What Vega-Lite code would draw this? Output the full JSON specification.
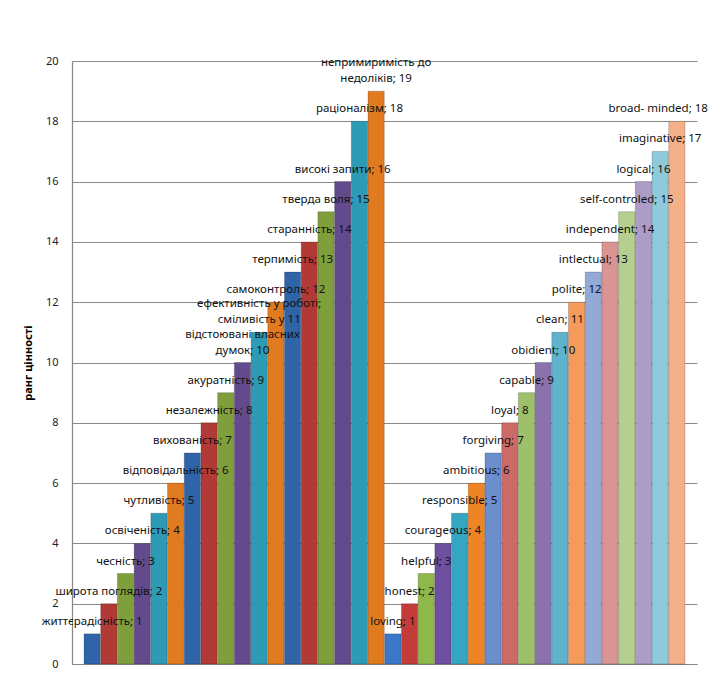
{
  "$schema": "https://vega.github.io/schema/vega-lite/v6.json",
  "width": 625,
  "height": 603,
  "autosize": "none",
  "padding": {"left": 72, "top": 61, "right": 23, "bottom": 35},
  "background": "white",
  "config": {"view": {"stroke": null}, "font": "Noto Sans"},
  "data": {"values": [
    {"n": 1, "label": "життєрадісність; 1", "value": 1},
    {"n": 2, "label": "широта поглядів; 2", "value": 2},
    {"n": 3, "label": "чесність; 3", "value": 3},
    {"n": 4, "label": "освіченість; 4", "value": 4},
    {"n": 5, "label": "чутливість; 5", "value": 5},
    {"n": 6, "label": "відповідальність; 6", "value": 6},
    {"n": 7, "label": "вихованість; 7", "value": 7},
    {"n": 8, "label": "незалежність; 8", "value": 8},
    {"n": 9, "label": "акуратність; 9", "value": 9},
    {"n": 10, "label": "відстоювані власних\nдумок; 10", "value": 10},
    {"n": 11, "label": "ефективність у роботі;\nсміливість у 11", "value": 11},
    {"n": 12, "label": "самоконтроль; 12", "value": 12},
    {"n": 13, "label": "терпимість; 13", "value": 13},
    {"n": 14, "label": "старанність; 14", "value": 14},
    {"n": 15, "label": "тверда воля; 15", "value": 15},
    {"n": 16, "label": "високі запити; 16", "value": 16},
    {"n": 17, "label": "раціоналізм; 18", "value": 18},
    {"n": 18, "label": "непримиримість до\nнедоліків; 19", "value": 19},
    {"n": 19, "label": "loving; 1", "value": 1},
    {"n": 20, "label": "honest; 2", "value": 2},
    {"n": 21, "label": "helpful; 3", "value": 3},
    {"n": 22, "label": "courageous; 4", "value": 4},
    {"n": 23, "label": "responsible; 5", "value": 5},
    {"n": 24, "label": "ambitious; 6", "value": 6},
    {"n": 25, "label": "forgiving; 7", "value": 7},
    {"n": 26, "label": "loyal; 8", "value": 8},
    {"n": 27, "label": "capable; 9", "value": 9},
    {"n": 28, "label": "obidient; 10", "value": 10},
    {"n": 29, "label": "clean; 11", "value": 11},
    {"n": 30, "label": "polite; 12", "value": 12},
    {"n": 31, "label": "intlectual; 13", "value": 13},
    {"n": 32, "label": "independent; 14", "value": 14},
    {"n": 33, "label": "self-controled; 15", "value": 15},
    {"n": 34, "label": "logical; 16", "value": 16},
    {"n": 35, "label": "imaginative; 17", "value": 17},
    {"n": 36, "label": "broad- minded; 18", "value": 18}
  ]},
  "encoding": {
    "x": {"field": "n", "type": "ordinal", "sort": "ascending",
      "scale": {"paddingInner": 0.03, "paddingOuter": 0.72},
      "axis": {"labels": false, "ticks": false, "title": null, "domainColor": "#888888", "domainWidth": 1.2}},
    "y": {"field": "value", "type": "quantitative",
      "scale": {"domain": [0, 20], "nice": false},
      "axis": {"values": [0,2,4,6,8,10,12,14,16,18,20], "title": "ранг цінності", "titleFontSize": 11, "titleFontWeight": "bold", "titleColor": "#000000", "titlePadding": 12,
        "labelFontSize": 11, "labelColor": "#222222", "labelPadding": 14, "ticks": false,
        "gridColor": "#8a8a8a", "gridWidth": 1, "domainColor": "#888888", "domainWidth": 1.2}}
  },
  "layer": [
    {"mark": {"type": "bar", "stroke": "#00000055", "strokeWidth": 0.6},
     "encoding": {"color": {"field": "n", "type": "ordinal", "legend": null,
       "scale": {"range": ["#2f64a8","#b23a36","#7f9f3c","#634a8c","#2d9bb5","#e07b20","#2f64a8","#b23a36","#7f9f3c","#634a8c","#2d9bb5","#e07b20","#2f64a8","#b23a36","#7f9f3c","#634a8c","#2d9bb5","#e07b20",
         "#3b78c8","#c43c3a","#8fb84b","#6e4fa0","#36a5c2","#ee8522","#6a8fcc","#cc6a68","#9fc06a","#8a73ad","#5fb3cc","#f49a5a","#93a9d6","#d89594","#b5cf8e","#ab9dc8","#8fcadb","#f5b08a"]}}}},
    {"transform": [{"filter": "indexof([10, 11, 18, 36], datum.n) < 0"}],
     "mark": {"type": "text", "baseline": "bottom", "align": "center", "dy": -7, "fontSize": 11.5, "color": "#111111"},
     "encoding": {"text": {"field": "label"}}},
    {"transform": [{"filter": "indexof([10, 11, 18], datum.n) >= 0"}],
     "mark": {"type": "text", "baseline": "bottom", "align": "center", "dy": -23, "fontSize": 11.5, "lineHeight": 16, "lineBreak": "\n", "color": "#111111"},
     "encoding": {"text": {"field": "label"}}},
    {"transform": [{"filter": "datum.n == 36"}],
     "mark": {"type": "text", "baseline": "bottom", "align": "right", "dx": 31, "dy": -7, "fontSize": 11.5, "color": "#111111"},
     "encoding": {"text": {"field": "label"}}}
  ]
}
